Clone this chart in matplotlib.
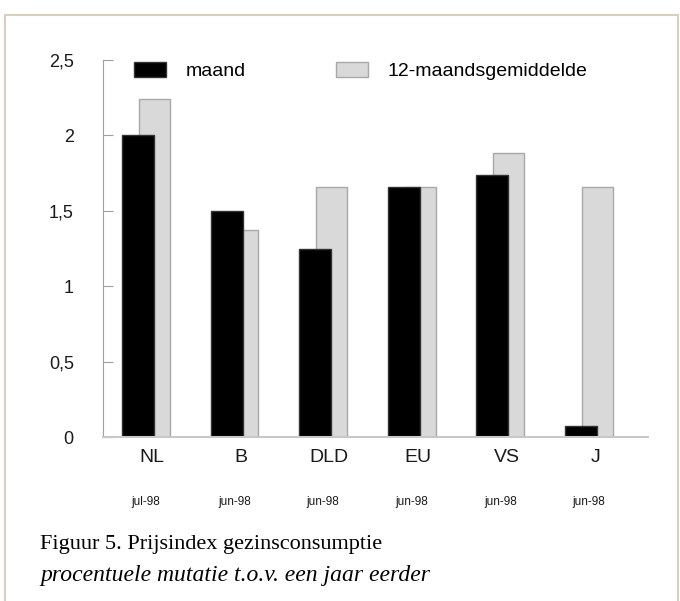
import matplotlib.pyplot as plt
from matplotlib.patches import Rectangle
import numpy as np

landen = ['NL', 'B', 'DLD', 'EU', 'VS', 'J']
datums = ['jul-98', 'jun-98', 'jun-98', 'jun-98', 'jun-98', 'jun-98']
maand = [2.0, 1.5, 1.25, 1.66, 1.74, 0.07]
gemiddelde = [2.24, 1.37, 1.66, 1.66, 1.88, 1.66]

plt.rcParams['font.family'] = ['Liberation Sans', 'DejaVu Sans']

fig = plt.figure(figsize=(6.8, 6.01), dpi=100)
ax = fig.add_axes([103 / 680, 1 - 437 / 601, 545 / 680, 377 / 601])

x = np.arange(len(landen))
ax.bar(x + 0.095, gemiddelde, width=0.35, color='#d9d9d9', edgecolor='#a8a8a8',
       linewidth=1, label='12-maandsgemiddelde', zorder=1)
ax.bar(x - 0.09, maand, width=0.36, color='black', edgecolor='#333333',
       linewidth=1, label='maand', zorder=2)

ax.set_ylim(0, 2.5)
ax.set_xlim(-0.485, len(landen) - 1 + 0.666)
ax.set_yticks([0, 0.5, 1, 1.5, 2, 2.5])
ax.set_yticklabels(['0', '0,5', '1', '1,5', '2', '2,5'], fontsize=13)
ax.tick_params(axis='y', direction='in', length=7, color='#a0a0a0', pad=21,
               labelcolor='#1a1a1a')
ax.set_xticks(x + 0.07)
ax.set_xticklabels(landen, fontsize=14, color='#1a1a1a')
ax.tick_params(axis='x', length=0, pad=9)

for i, d in enumerate(datums):
    ax.annotate(d, xy=(i, 0), xycoords=('data', 'axes fraction'),
                xytext=(0, -65), textcoords='offset pixels',
                ha='center', va='center', fontsize=8.5, color='#1a1a1a')

for s in ['top', 'right']:
    ax.spines[s].set_visible(False)
ax.spines['left'].set_color('#a0a0a0')
ax.spines['bottom'].set_color('#c8c8c8')
ax.spines['bottom'].set_linewidth(1.5)

handles, labels = ax.get_legend_handles_labels()
ax.legend(handles[::-1], labels[::-1], ncol=2, loc='center left',
          bbox_to_anchor=(0.057, 0.97), frameon=False, fontsize=14,
          borderaxespad=0, borderpad=0,
          handlelength=1.65, handleheight=0.8, columnspacing=4.6, handletextpad=1.03)

fig.text(40 / 680, 1 - 544 / 601, 'Figuur 5. Prijsindex gezinsconsumptie',
         family='Liberation Serif', fontsize=16, va='center', ha='left')
fig.text(40 / 680, 1 - 576 / 601, 'procentuele mutatie t.o.v. een jaar eerder',
         family='Liberation Serif', style='italic', fontsize=17, va='center', ha='left')

fig.add_artist(Rectangle((5 / 680, -0.1), 673 / 680, 0.1 + (601 - 15) / 601,
                         transform=fig.transFigure, fill=False,
                         edgecolor='#d6d0bd', linewidth=1.5))

fig.savefig('out.png', dpi=100)
